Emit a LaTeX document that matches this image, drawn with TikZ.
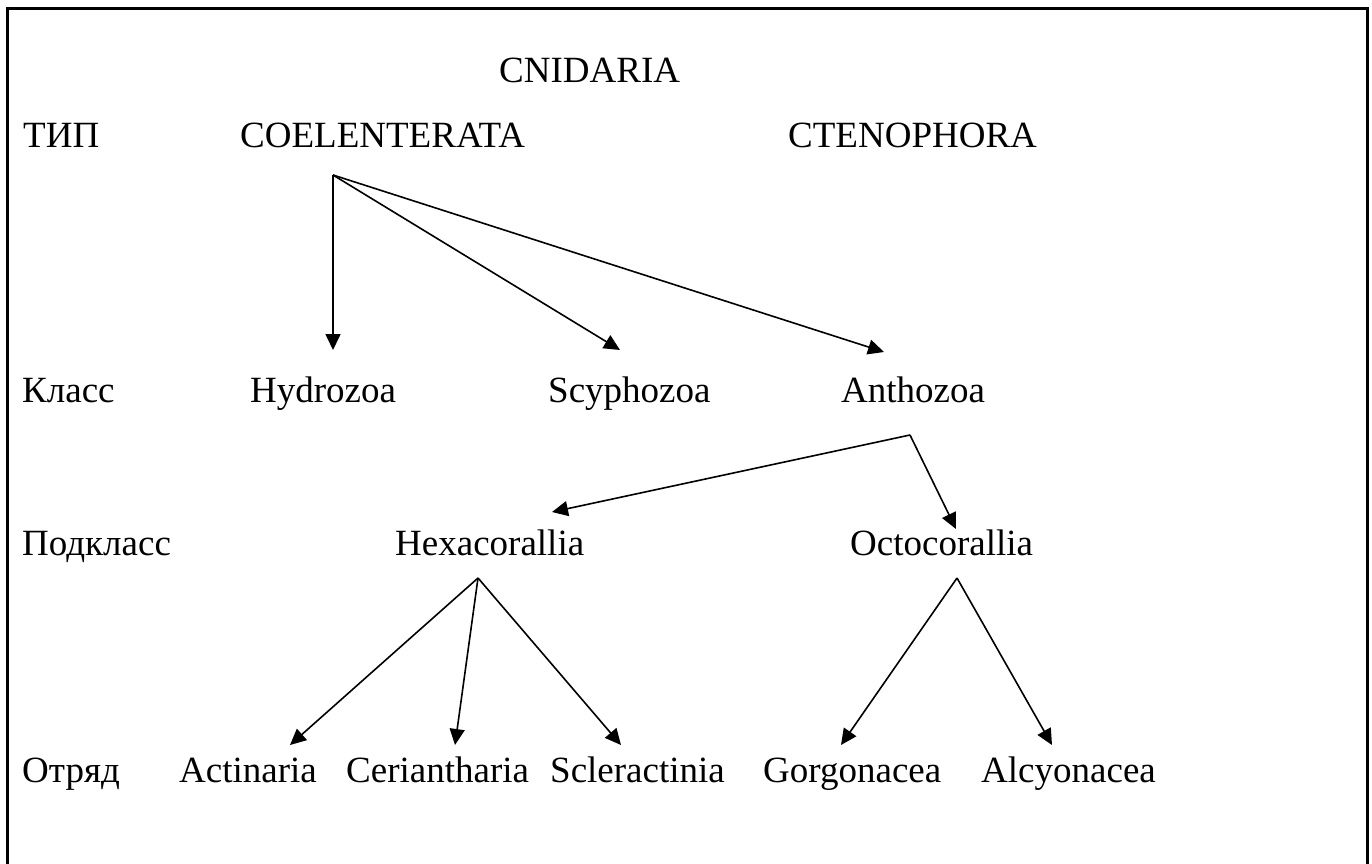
\documentclass[tikz,border=0pt]{standalone}
\usepackage{fontspec}
\setmainfont{Liberation Serif}
\usetikzlibrary{arrows.meta}
\begin{document}
\begin{tikzpicture}[x=1pt,y=-1pt,
  lbl/.style={anchor=base west,inner sep=0pt,font=\fontsize{37}{44}\selectfont},
  arr/.style={line width=1.6pt,-{Triangle[length=16pt,width=15pt]}},
  frame/.style={line width=3pt}]
\useasboundingbox (0,0) rectangle (1372,863);
\draw[frame] (7,880) -- (7,8) -- (1367,8) -- (1367,880);
% texts
\node[lbl] (cnid) at (499,82) {CNIDARIA};
\node[lbl] (tip) at (23,147) {ТИП};
\node[lbl] (coel) at (240,147) {COELENTERATA};
\node[lbl] (cten) at (788,147) {CTENOPHORA};
\node[lbl] (klass) at (22,402) {Класс};
\node[lbl] (hydro) at (250,402) {Hydrozoa};
\node[lbl] (scyph) at (548,402) {Scyphozoa};
\node[lbl] (antho) at (841,402) {Anthozoa};
\node[lbl] (podk) at (22,555) {Подкласс};
\node[lbl] (hexa) at (395,555) {Hexacorallia};
\node[lbl] (octo) at (850,555) {Octocorallia};
\node[lbl] (otr) at (22,782) {Отряд};
\node[lbl] (acti) at (179,782) {Actinaria};
\node[lbl] (ceri) at (346,782) {Ceriantharia};
\node[lbl] (scle) at (550,782) {Scleractinia};
\node[lbl] (gorg) at (763,782) {Gorgonacea};
\node[lbl] (alcy) at (981,782) {Alcyonacea};
% connector points
\coordinate (coelS) at (333,175);
\coordinate (hydroE) at (333,350);
\coordinate (scyphE) at (620,350);
\coordinate (anthoE) at (884,352);
\coordinate (anthoS) at (910,435);
\coordinate (hexaE) at (552,512);
\coordinate (octoE) at (956,529);
\coordinate (hexaS) at (478,578);
\coordinate (actiE) at (290,745);
\coordinate (ceriE) at (455,745);
\coordinate (scleE) at (621,745);
\coordinate (octoS) at (957,578);
\coordinate (gorgE) at (841,745);
\coordinate (alcyE) at (1052,745);
% connectors
\draw[arr] (coelS) -- (hydroE);
\draw[arr] (coelS) -- (scyphE);
\draw[arr] (coelS) -- (anthoE);
\draw[arr] (anthoS) -- (hexaE);
\draw[arr] (anthoS) -- (octoE);
\draw[arr] (hexaS) -- (actiE);
\draw[arr] (hexaS) -- (ceriE);
\draw[arr] (hexaS) -- (scleE);
\draw[arr] (octoS) -- (gorgE);
\draw[arr] (octoS) -- (alcyE);
\end{tikzpicture}
\end{document}
